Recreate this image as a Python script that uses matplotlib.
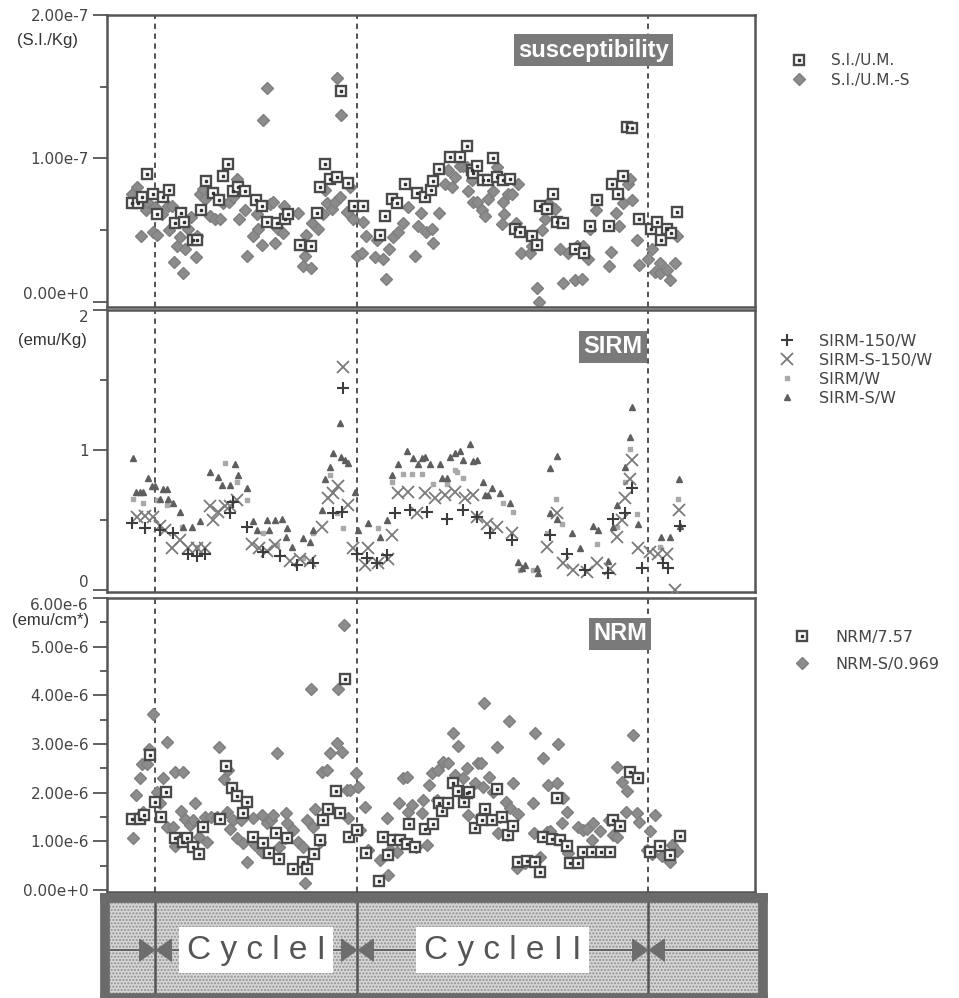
import matplotlib
matplotlib.use('Agg')
import matplotlib.pyplot as plt
from matplotlib.patches import Rectangle
import numpy as np

#######################################################
## data  (x = position along the section, shared by all panels)
#######################################################

# susceptibility, values in 1e-7 S.I./Kg
sus_x = [25, 31, 35, 40, 46, 50, 56, 62, 68, 74, 77, 86, 90, 94, 99, 106, 112, 116, 121, 126,
         131, 138, 149, 155, 160, 170, 178, 181, 193, 204, 210, 213, 218, 223, 230, 234, 241, 247,
         256, 273, 278, 285, 290, 298, 310, 318, 324, 326, 332, 343, 353, 360, 365, 366, 370, 376,
         381, 386, 390, 396, 403, 408, 413, 425, 430, 433, 440, 446, 450, 456, 468, 477, 483, 490,
         502, 505, 511, 516, 520, 525, 532, 544, 550, 554, 560, 564, 570]
sus_y = [.69, .69, .73, .89, .75, .61, .73, .78, .55, .62, .56, .43, .43, .64, .84, .76, .71, .88, .96, .77,
         .80, .77, .71, .67, .56, .55, .58, .61, .40, .39, .62, .80, .96, .86, .87, 1.47, .83, .67,
         .67, .47, .60, .72, .69, .82, .76, .73, .78, .84, .93, 1.01, 1.01, 1.09, .92, .90, .95, .85,
         .85, 1.00, .87, .85, .86, .51, .49, .46, .40, .67, .65, .75, .56, .55, .37, .34, .53, .71,
         .53, .82, .75, .88, 1.22, 1.21, .58, .51, .56, .43, .51, .48, .63]

sus_s_x = [25, 30, 34, 39, 40, 46, 48, 50, 55, 61, 62, 65, 67, 70, 73, 76, 78, 81, 84, 89, 90, 93,
           96, 98, 103, 108, 113, 116, 122, 126, 130, 132, 138, 140, 146, 150, 151, 155, 156, 160,
           163, 166, 168, 171, 176, 177, 180, 191, 196, 198, 199, 204, 205, 211, 216, 218, 220, 225,
           228, 230, 233, 234, 240, 243, 246, 250, 255, 256, 259, 268, 270, 276, 279, 282, 286, 291,
           296, 301, 308, 311, 314, 319, 325, 326, 332, 338, 341, 345, 348, 353, 356, 360, 361, 365,
           366, 370, 375, 378, 381, 386, 390, 395, 396, 397, 401, 405, 409, 411, 414, 423, 425, 430,
           432, 435, 438, 441, 448, 451, 453, 456, 461, 468, 470, 475, 476, 481, 483, 489, 502, 504,
           509, 512, 516, 521, 523, 525, 530, 532, 541, 545, 548, 553, 553, 560, 563, 568, 570]
sus_s_y = [.75, .80, .46, .64, .70, .49, .66, .47, .61, .67, .50, .67, .28, .39, .45, .20, .37, .51, .59, .31, .46, .75,
           .79, .72, .60, .58, .58, .69, .70, .73, .86, .58, .64, .32, .46, .61, .51, .40, 1.27, 1.49,
           .68, .70, .41, .51, .48, .67, .61, .62, .25, .32, .47, .24, .55, .51, .61, .78, .69, .65,
           .70, 1.56, .73, 1.30, .63, .80, .58, .32, .34, .56, .46, .31, .43, .30, .16, .37, .45, .49,
           .55, .66, .32, .53, .62, .49, .51, .41, .62, .82, .92, .80, .87, .95, .95, .94, .77, .85,
           .70, .70, .64, .60, .72, .77, .94, .54, .70, .61, .75, .75, .55, .82, .34, .34, .39, .10,
           .00, .50, .58, .69, .65, .56, .37, .13, .34, .15, .39, .16, .39, .30, .51, .64, .25, .35,
           .62, .53, .69, .82, .86, .71, .43, .26, .30, .37, .21, .20, .27, .22, .15, .27, .46]

# SIRM, emu/Kg
sirm150_x = [25, 38, 53, 66, 81, 90, 98, 123, 126, 140, 156, 173, 190, 206, 226, 235, 236, 250, 260, 270,
             280, 288, 303, 320, 340, 356, 370, 383, 405, 443, 460, 478, 501, 506, 518, 525, 535, 556, 561, 573]
sirm150_y = [.48, .44, .43, .41, .26, .24, .26, .55, .63, .45, .27, .24, .18, .19, .55, .56, 1.44, .26, .23, .19,
             .25, .55, .57, .56, .51, .57, .52, .41, .36, .39, .26, .14, .12, .51, .55, .73, .16, .19, .16, .46]

sirms150_x = [30, 38, 46, 53, 58, 65, 73, 81, 90, 98, 103, 106, 111, 118, 123, 130, 145, 152, 160, 168,
              183, 193, 203, 215, 221, 226, 231, 236, 241, 246, 258, 261, 271, 281, 285, 291, 301, 310,
              318, 328, 338, 348, 358, 366, 370, 380, 390, 405, 440, 450, 456, 466, 480, 490, 503, 510,
              515, 518, 523, 525, 531, 543, 551, 560, 568, 572]
sirms150_y = [.52, .53, .52, .46, .43, .30, .36, .30, .30, .30, .60, .50, .56, .60, .60, .64, .33, .30, .28, .32,
              .21, .22, .21, .45, .66, .69, .74, 1.59, .61, .30, .18, .30, .19, .22, .39, .69, .70, .55,
              .69, .66, .68, .70, .66, .68, .52, .47, .45, .41, .31, .55, .19, .14, .13, .19, .15, .38,
              .50, .66, .79, .93, .30, .27, .26, .26, .00, .57]

sirmw_x = [26, 36, 50, 60, 75, 90, 118, 130, 140, 156, 170, 196, 206, 223, 230, 236, 271, 285, 296, 305,
           315, 326, 340, 348, 350, 356, 396, 406, 413, 426, 440, 449, 455, 490, 510, 518, 523, 530, 553, 571]
sirmw_y = [.65, .62, .64, .61, .45, .31, .91, .77, .64, .41, .32, .23, .41, .82, .55, .44, .44, .77, .83, .83,
           .83, .76, .76, .86, .84, .80, .62, .56, .14, .14, .41, .65, .47, .33, .45, .77, 1.01, .54, .31, .65]

sirmsw_x = [26, 29, 33, 36, 41, 45, 48, 53, 56, 60, 61, 66, 73, 76, 85, 93, 103, 111, 115, 123, 128, 131,
            140, 146, 150, 160, 162, 168, 175, 179, 180, 185, 196, 203, 206, 215, 218, 223, 226, 233,
            234, 238, 241, 248, 251, 261, 273, 280, 285, 291, 300, 306, 311, 315, 318, 323, 333, 335,
            340, 343, 348, 353, 356, 363, 366, 370, 376, 378, 381, 385, 393, 403, 411, 415, 418, 430,
            431, 443, 443, 450, 450, 465, 473, 486, 491, 501, 506, 510, 518, 523, 525, 531, 554, 563,
            572, 573]
sirmsw_y = [.94, .70, .70, .70, .80, .74, .74, .65, .72, .72, .65, .62, .56, .45, .45, .49, .84, .81, .75, .75, .90, .82,
            .73, .49, .43, .50, .43, .50, .51, .38, .44, .31, .37, .34, .43, .57, .79, .88, .98, 1.19,
            .95, .93, .91, .70, .43, .48, .38, .50, .82, .90, .99, .94, .90, .94, .95, .90, .90, .80,
            .80, .95, .98, .99, .93, 1.04, .92, .93, .77, .68, .68, .73, .69, .62, .20, .16, .18, .16,
            .12, .87, .55, .96, .51, .41, .30, .46, .43, .21, .45, .61, .88, 1.09, 1.31, .47, .38, .38,
            .79, .46]

# NRM, values in 1e-6 emu/cm3
nrm_x = [25, 33, 37, 43, 48, 54, 59, 68, 76, 80, 86, 92, 96, 113, 119, 125, 130, 136, 140, 146, 156, 162,
         169, 172, 180, 186, 196, 200, 207, 213, 216, 221, 229, 233, 238, 242, 250, 259, 272, 276, 281,
         286, 293, 300, 302, 308, 318, 326, 332, 335, 341, 346, 351, 357, 360, 362, 368, 375, 378, 385,
         390, 395, 401, 406, 411, 420, 428, 433, 436, 445, 450, 453, 460, 463, 471, 476, 485, 494, 503,
         506, 513, 523, 531, 543, 553, 563, 573]
nrm_y = [1.46, 1.46, 1.54, 2.77, 1.81, 1.50, 2.01, 1.07, .99, 1.07, .88, .74, 1.29, 1.46, 2.55, 2.09, 1.93, 1.58,
         1.81, 1.09, .96, .76, 1.17, .64, 1.07, .43, .57, .43, .74, 1.03, 1.44, 1.66, 2.03, 1.58, 4.33, 1.09,
         1.23, .76, .18, 1.09, .72, 1.03, 1.03, .95, 1.36, .88, 1.25, 1.36, 1.79, 1.62, 1.79, 2.20, 2.03,
         1.81, 1.99, 2.01, 1.27, 1.44, 1.66, 1.44, 2.07, 1.50, 1.13, 1.31, .57, .60, .57, .37, 1.09, 1.05,
         1.89, 1.03, .90, .55, .55, .78, .78, .78, .78, 1.44, 1.31, 2.42, 2.30, .78, .90, .72, 1.11]

nrm_s_x = [26, 29, 33, 35, 36, 40, 42, 46, 50, 53, 56, 60, 60, 66, 68, 68, 74, 76, 78, 83, 86, 88, 92, 98,
           100, 104, 110, 112, 117, 120, 121, 123, 126, 130, 134, 136, 140, 146, 148, 155, 155, 160, 164,
           166, 170, 172, 178, 179, 180, 186, 191, 196, 198, 200, 204, 206, 208, 213, 215, 220, 223, 230,
           231, 235, 237, 240, 241, 243, 249, 251, 253, 258, 261, 273, 280, 281, 283, 290, 292, 296, 300,
           301, 305, 309, 315, 316, 320, 322, 325, 330, 331, 336, 341, 346, 348, 351, 356, 360, 361, 368,
           371, 373, 374, 376, 377, 382, 386, 390, 391, 393, 399, 400, 402, 403, 406, 410, 411, 418, 426,
           427, 428, 433, 436, 440, 441, 443, 450, 451, 455, 456, 460, 461, 471, 476, 480, 485, 486, 493,
           502, 506, 510, 510, 515, 519, 520, 526, 530, 532, 540, 543, 545, 548, 555, 563, 565, 570]
nrm_s_y = [1.07, 1.95, 2.30, 2.59, 1.60, 2.59, 2.90, 3.61, 2.01, 1.79, 2.30, 3.04, 1.29, 1.29, .90, 2.42, 1.62,
           2.42, 1.46, 1.33, 1.44, 1.79, 1.09, 1.50, .99, 1.50, 1.50, 2.94, 2.28, 1.60, 2.46, 1.25, 1.44,
           1.07, 1.44, .96, .57, 1.48, .92, 1.54, .78, 1.38, 1.44, 1.54, 2.81, .88, 1.07, 1.58, 1.38, 1.23,
           .99, .88, .14, 1.44, 4.13, 1.29, 1.66, .99, 2.42, 2.46, 2.81, 3.02, 4.13, 2.83, 5.44, 2.05, 1.48,
           2.05, 2.40, 2.11, 1.23, 1.70, .82, .62, 1.48, .31, .82, .78, 1.79, 2.30, 2.32, 1.60, 1.75, .88,
           1.58, 1.85, .92, 2.16, 2.40, 1.85, 2.46, 2.63, 2.60, 3.22, 2.36, 2.96, 2.30, 2.50, 1.54, 2.20,
           2.61, 1.50, 2.61, 2.11, 3.84, 2.32, 2.01, 2.94, 1.17, 1.50, 1.81, 1.13, 3.47, 1.68, 2.20, .45,
           1.56, .55, 1.79, 1.17, 3.22, .68, 2.71, 1.19, 2.16, 1.21, 2.20, 3.00, 1.38, 1.89, 1.60, .76, 1.29,
           1.23, 1.25, 1.03, 1.38, 1.21, 1.44, 1.13, 1.09, 2.53, 2.22, 1.60, 2.03, 3.18, 1.58, 1.40, .82,
           1.21, .75, 1.54, .70, .57, .92, .80]

cycle_bounds = [48, 250, 541]
cycle_names = ['C y c l e I', 'C y c l e I I']

#######################################################
## figure
#######################################################

W, H = 959., 998.
fig = plt.figure(figsize=(W / 100, H / 100), dpi=100)
grey = '#555555'


def panel(top, bottom):
    return fig.add_axes([107 / W, 1 - bottom / H, 648 / W, (bottom - top) / H])


def style(ax, ticks, labels, minor, ylim):
    ax.set_xlim(0, 648)
    ax.set_ylim(*ylim)
    for s in ax.spines.values():
        s.set_color(grey)
        s.set_linewidth(1.8)
    ax.set_yticks(ticks)
    ax.set_yticklabels(labels)
    ax.set_yticks(minor, minor=True)
    ax.tick_params(axis='y', which='major', length=10, width=1.3, color=grey,
                   labelsize=11, labelcolor='#444444', pad=3)
    ax.tick_params(axis='y', which='minor', length=5, width=1.3, color=grey)
    ax.set_xticks([])
    for b in cycle_bounds:
        ax.axvline(b, color='#222222', lw=1.1, ls=(0, (3.5, 3)), zorder=1)


def title_box(ax, x, y, txt):
    ax.text(x, y, txt, transform=ax.transAxes, ha='center', va='center', color='white',
            fontsize=17, fontweight='bold', family=['Liberation Sans', 'DejaVu Sans'],
            bbox=dict(boxstyle='square,pad=0.18', facecolor='#7a7a7a', edgecolor='none'), zorder=5)


def squares(ax, x, y, scale):
    y = np.array(y) * scale
    h1, = ax.plot(x, y, ls='none', marker='s', ms=7.5, mfc='white', mec='#4a4a4a', mew=1.7, zorder=3)
    h2, = ax.plot(x, y, ls='none', marker='s', ms=1.8, color='#333333', zorder=4)
    return (h1, h2)


def diamonds(ax, x, y, scale):
    h, = ax.plot(x, np.array(y) * scale, ls='none', marker='D', ms=6.5, color='#8c8c8c',
                 mec='#7f7f7f', zorder=2)
    return h


leg_kw = dict(loc='upper left', bbox_transform=fig.transFigure, frameon=False,
              handlelength=1.0, borderpad=0, borderaxespad=0, labelcolor='#444444')

# ---- susceptibility ----
ax1 = panel(15, 307)
style(ax1, [0, 1e-7, 2e-7], ['0.00e+0', '1.00e-7', '2.00e-7'], [0.5e-7, 1.5e-7], (-0.035e-7, 2.0e-7))
ax1.get_yticklabels()[0].set_va('bottom')
hd = diamonds(ax1, sus_s_x, sus_s_y, 1e-7)
hs = squares(ax1, sus_x, sus_y, 1e-7)
title_box(ax1, 0.751, 0.88, 'susceptibility')
ax1.legend([hs, hd], ['S.I./U.M.', 'S.I./U.M.-S'], bbox_to_anchor=(791 / W, 1 - 53 / H),
           fontsize=11, handletextpad=1.6, labelspacing=0.3, **leg_kw)
fig.text(47 / W, 1 - 40 / H, '(S.I./Kg)', ha='center', va='center', fontsize=12,
         color='#333333', family=['Liberation Sans', 'DejaVu Sans'])

# ---- SIRM ----
ax2 = panel(310, 592)
style(ax2, [0, 1, 2], ['0', '1', '2'], [0.5, 1.5], (-0.014, 2.0))
ax2.get_yticklabels()[0].set_va('bottom')
ax2.get_yticklabels()[2].set_va('top')
h1, = ax2.plot(sirm150_x, sirm150_y, ls='none', marker='+', ms=8, mew=1.5, color='#3c3c3c', zorder=4)
h2, = ax2.plot(sirms150_x, sirms150_y, ls='none', marker='x', ms=8, mew=1.3, color='#7a7a7a', zorder=3)
h3, = ax2.plot(sirmw_x, sirmw_y, ls='none', marker='s', ms=3, color='#a9a9a9', zorder=2)
h4, = ax2.plot(sirmsw_x, sirmsw_y, ls='none', marker='^', ms=5, color='#5e5e5e', zorder=2)
title_box(ax2, 0.781, 0.869, 'SIRM')
ax2.legend([h1, h2, h3, h4], ['SIRM-150/W', 'SIRM-S-150/W', 'SIRM/W', 'SIRM-S/W'],
           bbox_to_anchor=(779 / W, 1 - 334 / H), fontsize=11.5, handletextpad=1.5,
           labelspacing=0.25, **leg_kw)
fig.text(52 / W, 1 - 340 / H, '(emu/Kg)', ha='center', va='center', fontsize=12,
         color='#333333', family=['Liberation Sans', 'DejaVu Sans'])

# ---- NRM ----
ax3 = panel(598, 892)
style(ax3, [k * 1e-6 for k in range(7)],
      ['0.00e+0'] + ['%d.00e-6' % k for k in range(1, 7)],
      [(k + 0.5) * 1e-6 for k in range(6)], (-0.04e-6, 6.0e-6))
ax3.get_yticklabels()[6].set_va('top')
ax3.set_xticks([108, 216, 324, 432, 540])
ax3.tick_params(axis='x', length=6, width=1.3, color=grey, labelbottom=False)
hd = diamonds(ax3, nrm_s_x, nrm_s_y, 1e-6)
hs = squares(ax3, nrm_x, nrm_y, 1e-6)
title_box(ax3, 0.792, 0.878, 'NRM')
ax3.legend([hs, hd], ['NRM/7.57', 'NRM-S/0.969'], bbox_to_anchor=(794 / W, 1 - 630 / H),
           fontsize=11.5, handletextpad=1.6, labelspacing=0.75, **leg_kw)
fig.text(51 / W, 1 - 621 / H, '(emu/cm*)', ha='center', va='center', fontsize=12,
         color='#333333', family=['Liberation Sans', 'DejaVu Sans'])

# ---- cycle bar ----
axb = fig.add_axes([105 / W, 0, 658 / W, 100 / H])
axb.set_xlim(-2, 656)
axb.set_ylim(0, 1)
axb.set_xticks([])
axb.set_yticks([])
axb.add_patch(Rectangle((0, 0), 1, 1, transform=axb.transAxes, facecolor='#d6d6d6',
                        edgecolor='#8e8e8e', hatch='.....', lw=0, zorder=0))
for s in axb.spines.values():
    s.set_color('#6b6b6b')
    s.set_linewidth(7)
axb.axhline(0.48, color=grey, lw=1.2, zorder=1)
tri_r = [(-0.7, -1), (-0.7, 1), (0.7, 0)]
tri_l = [(0.7, -1), (0.7, 1), (-0.7, 0)]
for b in cycle_bounds:
    axb.axvline(b, color=grey, lw=1.8, zorder=2)
    axb.plot([b - 8], [0.48], marker=tri_r, ms=16, color='#6d6d6d', zorder=3)
    axb.plot([b + 8], [0.48], marker=tri_l, ms=16, color='#6d6d6d', zorder=3)
for i, name in enumerate(cycle_names):
    xc = (cycle_bounds[i] + cycle_bounds[i + 1]) / 2
    axb.text(xc, 0.48, name, ha='center', va='center', fontsize=24, color='#555555',
             family=['Liberation Sans Narrow', 'Liberation Sans', 'DejaVu Sans'],
             bbox=dict(boxstyle='square,pad=0.22', facecolor='white', edgecolor='none'), zorder=4)

fig.savefig('out.png', dpi=100)
